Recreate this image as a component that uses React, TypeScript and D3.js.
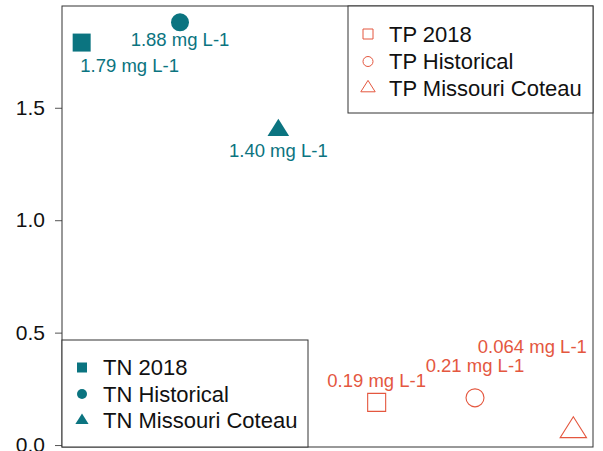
import React, { useRef, useEffect } from 'react';
import * as d3 from 'd3';

// values
const seriesNames = ['TN 2018', 'TN Historical', 'TN Missouri Coteau', 'TP 2018', 'TP Historical', 'TP Missouri Coteau'];
const seriesValues = [1.79, 1.88, 1.40, 0.19, 0.21, 0.064];
const valueLabels = ['1.79 mg L-1', '1.88 mg L-1', '1.40 mg L-1', '0.19 mg L-1', '0.21 mg L-1', '0.064 mg L-1'];
const yTicks = [0, 0.5, 1.0, 1.5];

const TEAL = '#0b7480';
const RED = '#e4573f';
const FONT = 'Liberation Sans, Arial, Helvetica, sans-serif';

type Shape = 'square' | 'circle' | 'triangle';
const shapes: Shape[] = ['square', 'circle', 'triangle', 'square', 'circle', 'triangle'];

// label nudges relative to each point (px)
const labelNudge = [
  { dx: 48, dy: 29 },
  { dx: 0, dy: 24 },
  { dx: 0, dy: 27 },
  { dx: 0, dy: -15 },
  { dx: 0, dy: -26 },
  { dx: -41, dy: -78 },
];

const symbolPath = (shape: Shape, size: number) => {
  if (shape === 'square') {
    const h = size / 2;
    return `M${-h},${-h}H${h}V${h}H${-h}Z`;
  }
  if (shape === 'circle') {
    const r = size / 2;
    return `M${r},0A${r},${r} 0 1,1 ${-r},0A${r},${r} 0 1,1 ${r},0Z`;
  }
  // triangle, centroid at origin
  const w = size * 1.2;
  const ht = size * 0.95;
  return `M0,${-ht * 2 / 3}L${w / 2},${ht / 3}L${-w / 2},${ht / 3}Z`;
};

const App: React.FC = () => {
  const svgRef = useRef<SVGSVGElement>(null);

  useEffect(() => {
    if (!svgRef.current) return;
    const svg = d3.select(svgRef.current);
    svg.selectAll('*').remove();

    const left = 62, right = 593, top = 6, bottom = 447;

    const x = d3.scaleLinear().domain([0.8, 6.2]).range([left, right]);
    const lo = d3.min(seriesValues)!, hi = d3.max(seriesValues)!;
    const pad = (hi - lo) * 0.04;
    const y = d3.scaleLinear().domain([lo - pad, hi + pad]).range([bottom, top]);

    // y axis
    const yAxis = d3.axisLeft(y)
      .tickValues(yTicks)
      .tickSize(7)
      .tickPadding(10)
      .tickFormat(d => d3.format('.1f')(d as number));

    const ax = svg.append('g')
      .attr('transform', `translate(${left},0)`)
      .call(yAxis);
    ax.select('.domain').remove();
    ax.selectAll('.tick line').attr('stroke', '#555').attr('stroke-width', 1);
    ax.selectAll('.tick text')
      .attr('fill', '#111')
      .attr('font-size', '21px')
      .attr('font-family', FONT);

    // plot box
    svg.append('rect')
      .attr('x', left).attr('y', top)
      .attr('width', right - left).attr('height', bottom - top)
      .attr('fill', 'none').attr('stroke', '#333').attr('stroke-width', 1);

    const data = seriesValues.map((v, i) => ({
      name: seriesNames[i],
      value: v,
      label: valueLabels[i],
      shape: shapes[i],
      isTN: i < 3,
      nudge: labelNudge[i],
      idx: i + 1,
    }));

    // points
    svg.selectAll('.pt')
      .data(data)
      .enter()
      .append('path')
      .attr('class', 'pt')
      .attr('transform', d => `translate(${x(d.idx)},${y(d.value)})`)
      .attr('d', d => d.isTN
        ? symbolPath(d.shape, d.shape === 'triangle' ? 18 : 18)
        : symbolPath(d.shape, d.shape === 'triangle' ? 22 : 18))
      .attr('fill', d => d.isTN ? TEAL : 'none')
      .attr('stroke', d => d.isTN ? 'none' : RED)
      .attr('stroke-width', 1.1);

    // value labels
    svg.selectAll('.val')
      .data(data)
      .enter()
      .append('text')
      .attr('class', 'val')
      .attr('x', d => x(d.idx) + d.nudge.dx)
      .attr('y', d => y(d.value) + d.nudge.dy)
      .attr('text-anchor', 'middle')
      .attr('font-size', '18.5px')
      .attr('font-family', FONT)
      .attr('fill', d => d.isTN ? TEAL : RED)
      .text(d => d.label);

    // legends
    const drawLegend = (items: typeof data, bx: number, by: number, bw: number, bh: number, rowY: number[], symSize: number[]) => {
      const g = svg.append('g');
      g.append('rect')
        .attr('x', bx).attr('y', by)
        .attr('width', bw).attr('height', bh)
        .attr('fill', 'white').attr('stroke', '#333').attr('stroke-width', 1);
      items.forEach((d, i) => {
        g.append('path')
          .attr('transform', `translate(${bx + 20},${rowY[i]})`)
          .attr('d', symbolPath(d.shape, symSize[i]))
          .attr('fill', d.isTN ? TEAL : 'none')
          .attr('stroke', d.isTN ? 'none' : RED)
          .attr('stroke-width', 1);
        g.append('text')
          .attr('x', bx + 41)
          .attr('y', rowY[i])
          .attr('dominant-baseline', 'central')
          .attr('font-size', '22px')
          .attr('font-family', FONT)
          .attr('fill', '#111')
          .text(d.name);
      });
    };

    drawLegend(data.slice(3), 348, top, right - 348, 107, [34, 61.5, 88], [10, 10, 12]);
    drawLegend(data.slice(0, 3), left, 340, 308 - left, bottom - 340, [367.5, 394, 420.5], [10, 10, 11]);
  }, []);

  return (
    <svg
      ref={svgRef}
      width={603}
      height={451}
      style={{ position: 'absolute', left: 0, top: 0, display: 'block', background: 'white' }}
    />
  );
};

export default App;
